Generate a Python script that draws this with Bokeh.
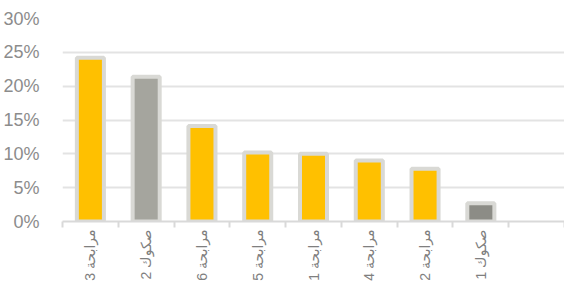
import numpy as np
from bokeh.plotting import figure
from bokeh.models import Range1d, FixedTicker, NumeralTickFormatter, ColumnDataSource
from bokeh.embed import file_html
from bokeh.resources import INLINE

categories = ["مرابحة 3", "صكوك 2", "مرابحة 6", "مرابحة 5", "مرابحة 1", "مرابحة 4", "مرابحة 2", "صكوك 1"]
values = [0.242, 0.214, 0.141, 0.102, 0.100, 0.090, 0.078, 0.027]
colors = ["#FFC000", "#A5A59E", "#FFC000", "#FFC000", "#FFC000", "#FFC000", "#FFC000", "#8C8C86"]
y_ticks = [0, 0.05, 0.10, 0.15, 0.20, 0.25, 0.30]
n_slots = 9

xs = np.arange(len(categories)) + 0.5
src = ColumnDataSource(dict(x=xs, top=values, color=colors))

p = figure(width=564, height=283, output_backend="svg", toolbar_location=None,
           x_range=Range1d(0, n_slots), y_range=Range1d(0, 0.30),
           min_border_left=54, min_border_right=0, min_border_top=18, min_border_bottom=58)
p.outline_line_color = None

p.vbar(x="x", top="top", width=0.485, bottom=0, source=src, fill_color="color",
       line_color="#D9D9D5", line_width=4)

p.xaxis.ticker = FixedTicker(ticks=list(xs), minor_ticks=list(range(n_slots + 1)))
p.xaxis.major_label_overrides = {float(x): c for x, c in zip(xs, categories)}
p.xaxis.major_label_orientation = np.pi / 2
p.xaxis.major_tick_line_color = None
p.xaxis.major_tick_out = 6
p.xaxis.major_tick_in = 0
p.xaxis.minor_tick_line_color = "#D9D9D9"
p.xaxis.minor_tick_line_width = 2
p.xaxis.minor_tick_out = 6
p.xaxis.minor_tick_in = 0
p.xaxis.axis_line_color = "#D9D9D9"
p.xaxis.axis_line_width = 2
p.xaxis.major_label_text_color = "#7F7F7F"
p.xaxis.major_label_text_font = "Liberation Sans, DejaVu Sans"
p.xaxis.major_label_text_font_size = "14px"
p.xaxis.major_label_standoff = 2
p.xgrid.grid_line_color = None

p.yaxis.ticker = FixedTicker(ticks=y_ticks)
p.yaxis.formatter = NumeralTickFormatter(format="0%")
p.yaxis.axis_line_color = None
p.yaxis.major_tick_line_color = None
p.yaxis.minor_tick_line_color = None
p.yaxis.major_label_text_color = "#8C8C8C"
p.yaxis.major_label_text_font = "Liberation Sans"
p.yaxis.major_label_text_font_size = "18px"
p.yaxis.major_label_standoff = 17
p.ygrid.grid_line_color = "#E3E3E3"
p.ygrid.grid_line_width = 2
p.ygrid.ticker = FixedTicker(ticks=y_ticks)

open("out.html", "w").write(file_html(p, INLINE))
